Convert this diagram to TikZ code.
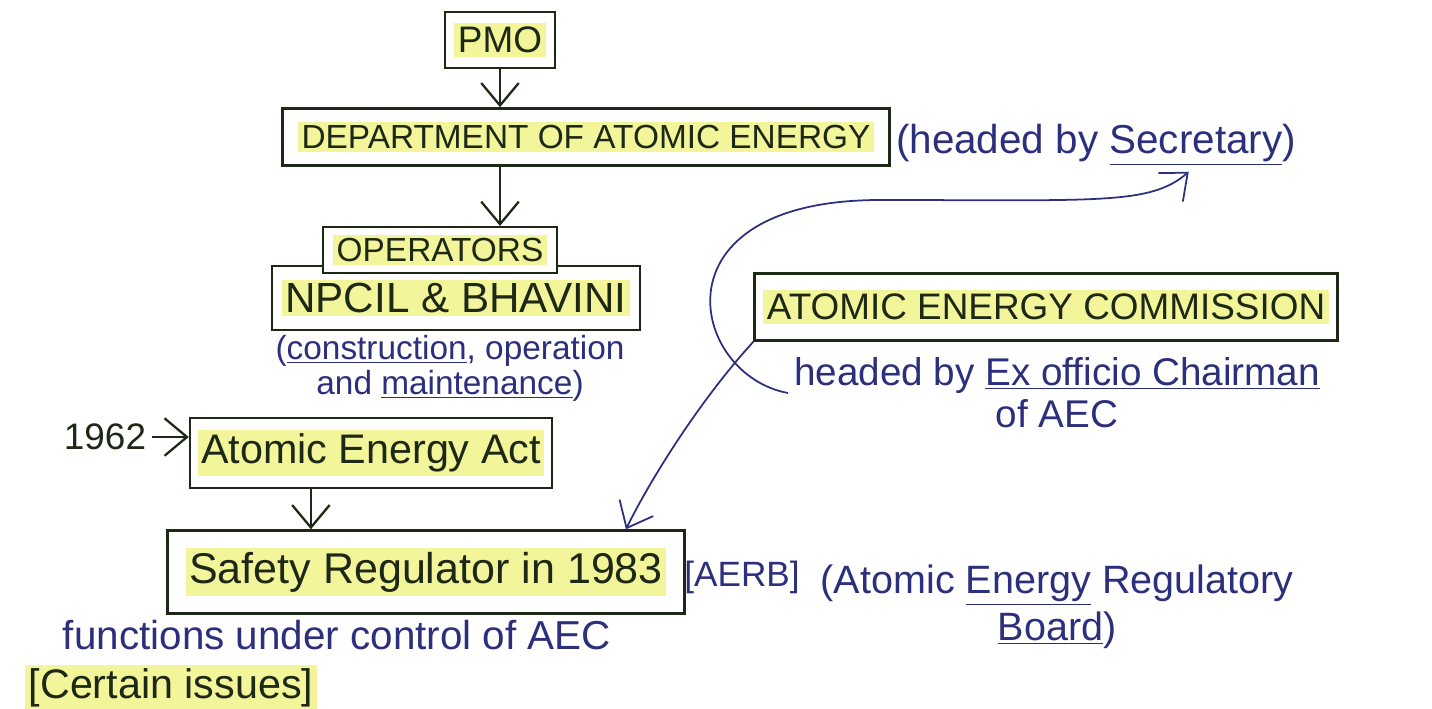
\documentclass[tikz,border=0pt]{standalone}
\usepackage{fontspec}
\setmainfont{Liberation Sans}
\usetikzlibrary{positioning}
\usetikzlibrary{calc}
\usetikzlibrary{arrows.meta}
\definecolor{pen}{HTML}{1E2816}
\definecolor{ink}{HTML}{2C2F7C}
\definecolor{marker}{HTML}{F2F59A}

\newcommand{\marked}[1]{\colorbox{marker}{#1}}
\setlength{\fboxsep}{2pt}

\tikzset{
	box/.style={draw=pen, line width=1.4pt, text=pen, fill=white, inner sep=0.15cm},
	note/.style={text=ink, align=center},
	barb/.style={-{Straight Barb[length=0.45cm,width=0.75cm]}, line width=1.3pt},
}

\begin{document}
\begin{tikzpicture}[x=0.02cm, y=-0.02cm]

	\useasboundingbox (0,0) rectangle (1432,708);

	\draw (500,40) 
		node[box, minimum width=2.2cm, minimum height=1.12cm, font=\fontsize{21}{24}\selectfont] 
			(PMO) {\marked{PMO}};

	\draw (586,137) 
		node[box, minimum width=12.14cm, minimum height=1.14cm, font=\fontsize{19}{22}\selectfont] 
			(DAE) {\marked{DEPARTMENT OF ATOMIC ENERGY}};

	\draw (1096,145) 
		node[note, font=\fontsize{23}{26}\selectfont] 
			(secnote) {(headed by \underline{Secretary})};

	\draw (456,298) 
		node[box, minimum width=7.36cm, minimum height=1.28cm, font=\fontsize{24}{28}\selectfont] 
			(NPCIL) {\marked{NPCIL \& BHAVINI}};

	\draw (440,250) 
		node[box, minimum width=4.68cm, minimum height=0.9cm, font=\fontsize{19}{22}\selectfont] 
			(OPS) {\marked{OPERATORS}};

	\draw (450,368) 
		node[note, font=\fontsize{19}{20}\selectfont] 
			(opnote) {(\underline{construction}, operation\\ and \underline{maintenance})};

	\draw (105,437) 
		node[text=pen, font=\fontsize{21}{24}\selectfont] 
			(yr) {1962};

	\draw (371,453) 
		node[box, minimum width=7.24cm, minimum height=1.4cm, font=\fontsize{23.5}{27}\selectfont] 
			(Act) {\marked{Atomic Energy Act}};

	\draw (426,572) 
		node[box, minimum width=10.34cm, minimum height=1.66cm, font=\fontsize{24.5}{28}\selectfont] 
			(Safety) {\marked{Safety Regulator in 1983}};

	\draw (742,577) 
		node[note, font=\fontsize{20}{22}\selectfont] 
			(aerb) {[AERB]};

	\draw (1057,607) 
		node[note, font=\fontsize{22.5}{27}\selectfont] 
			(aerbfull) {(Atomic \underline{Energy} Regulatory\\ \underline{Board})};

	\draw (337,635) 
		node[note, font=\fontsize{23}{26}\selectfont] 
			(func) {functions under control of AEC};

	\draw (171,688) 
		node[text=pen, font=\fontsize{23.5}{26}\selectfont] 
			(issues) {\marked{[Certain issues]}};

	\draw (1046,307) 
		node[box, minimum width=11.66cm, minimum height=1.34cm, font=\fontsize{21}{24}\selectfont] 
			(AEC) {\marked{ATOMIC ENERGY COMMISSION}};

	\draw (1057,393) 
		node[note, font=\fontsize{22}{24}\selectfont] 
			(chair) {headed by \underline{Ex officio Chairman}\\ of AEC};

	% hierarchy arrows
	\draw[pen, barb] (PMO.south) -- (PMO.south |- DAE.north);
	\draw[pen, barb] (DAE.south -| PMO.south) -- (OPS.north -| PMO.south);
	\draw[pen, barb] (yr.east) -- (yr.east -| Act.west);
	\coordinate (actout) at ($(Act.south)!0.33!(Act.south west)$);
	\draw[pen, barb] (actout) -- (actout |- Safety.north);

	% links from the commission
	\coordinate (secpoint) at ($(secnote.south)!0.45!(secnote.south east)$);
	\draw[ink, barb, line width=1pt] (chair.west) 
		.. controls (690,375) and (650,200) .. (880,200) 
		.. controls (1100,200) and (1150,205) .. (secpoint);

	\coordinate (safepoint) at ($(Safety.north)!0.77!(Safety.north east)$);
	\draw[ink, barb, line width=1pt] (AEC.south west) 
		.. controls (700,400) and (650,480) .. (safepoint);

\end{tikzpicture}
\end{document}
